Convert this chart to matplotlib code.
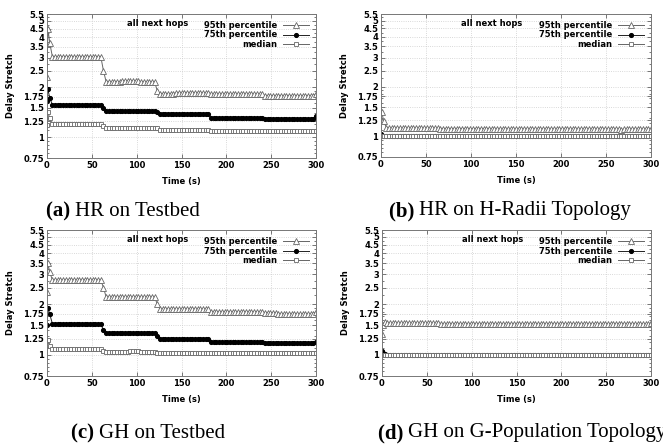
import matplotlib
matplotlib.use("Agg")
import matplotlib.pyplot as plt
from matplotlib.ticker import FixedLocator, NullFormatter

# sample times (s): 0, 1, then every 3 s
time_s = [0, 1] + list(range(3, 301, 3))

# runs: t0, t1, t3, 6..60 (19), 63, 66..120 (19), 123, 126..180 (19), 183..240 (20), 243..297 (19), 300
hr_testbed_p95 = ([2.3, 4.5, 3.7] + [3.05] * 19 + [2.5] + [2.15] * 6 + [2.18] * 7 + [2.15] * 6 + [1.9]
                  + [1.83] * 6 + [1.85] * 13 + [1.82] * 20 + [1.78] * 19 + [1.82])
hr_testbed_p75 = ([1.65, 1.95, 1.72] + [1.57] * 19 + [1.5] + [1.43] * 19 + [1.42]
                  + [1.37] * 19 + [1.31] * 20 + [1.29] * 19 + [1.34])
hr_testbed_med = ([1.18, 1.42, 1.3] + [1.195] * 19 + [1.16] + [1.14] * 19 + [1.13]
                  + [1.10] * 19 + [1.095] * 20 + [1.09] * 19 + [1.09])

hr_hradii_p95 = ([1.26, 1.40, 1.23] + [1.13] + [1.118] * 18 + [1.118] + [1.115] * 19 + [1.11]
                 + [1.105] * 19 + [1.105] * 20 + [1.105] * 8 + [1.09] + [1.105] * 10 + [1.11])
hr_hradii_p75 = [1.03, 1.01, 1.0] + [1.0] * 99
hr_hradii_med = [1.0, 1.0, 1.0] + [1.0] * 99

gh_testbed_p95 = ([2.35, 3.5, 3.1] + [2.78] * 19 + [2.5] + [2.2] * 19 + [2.0]
                  + [1.87] * 19 + [1.8] * 20 + [1.78] * 5 + [1.75] * 14 + [1.8])
gh_testbed_p75 = ([1.5, 1.9, 1.75] + [1.53] * 19 + [1.4] + [1.35] * 19 + [1.3]
                  + [1.24] * 19 + [1.2] * 20 + [1.18] * 19 + [1.19])
gh_testbed_med = ([1.15, 1.22, 1.13] + [1.08] * 19 + [1.05] + [1.04] * 9 + [1.05] * 4 + [1.04] * 6 + [1.03]
                  + [1.02] * 19 + [1.02] * 20 + [1.02] * 19 + [1.03])

gh_gpop_p95 = ([1.33, 1.5, 1.56] + [1.54] * 19 + [1.54] + [1.53] * 19 + [1.53]
               + [1.53] * 19 + [1.53] * 20 + [1.53] * 19 + [1.54])
gh_gpop_p75 = [1.05, 1.03, 1.01] + [1.0] * 99
gh_gpop_med = [1.0, 1.0, 1.0] + [1.0] * 99

panels = [
    (hr_testbed_p95, hr_testbed_p75, hr_testbed_med),
    (hr_hradii_p95, hr_hradii_p75, hr_hradii_med),
    (gh_testbed_p95, gh_testbed_p75, gh_testbed_med),
    (gh_gpop_p95, gh_gpop_p75, gh_gpop_med),
]
captions = [("(a)", "HR on Testbed"), ("(b)", "HR on H-Radii Topology"),
            ("(c)", "GH on Testbed"), ("(d)", "GH on G-Population Topology")]
y_ticks = [0.75, 1, 1.25, 1.5, 1.75, 2, 2.5, 3, 3.5, 4, 4.5, 5, 5.5]
y_tick_labels = ["0.75", "1", "1.25", "1.5", "1.75", "2", "2.5", "3", "3.5", "4", "4.5", "5", "5.5"]
x_ticks = [0, 50, 100, 150, 200, 250, 300]

W, H = 663, 445
fig = plt.figure(figsize=(W / 100, H / 100), dpi=100)

# axes boxes in pixels: left, right, top, bottom
boxes = [(47, 316, 14, 158), (381, 651, 14, 157), (47, 316, 230, 376), (382, 651, 230, 376)]
# caption anchors in pixels: center x, center y
cap_pos = [(123, 211), (510, 211), (148, 433), (522, 433)]

line_col = "#666666"
fs = 6.0
for (p95, p75, med), (l, r, t, b) in zip(panels, boxes):
    ax = fig.add_axes([l / W, (H - b) / H, (r - l) / W, (b - t) / H])
    ax.set_yscale("log")
    ax.plot(time_s, p95, color=line_col, lw=0.7, marker="^", ms=3.8, mfc="white",
            mec=line_col, mew=0.6, label="95th percentile")
    ax.plot(time_s, p75, color="#222222", lw=0.7, marker="o", ms=2.7, mfc="black",
            mec="black", label="75th percentile")
    ax.plot(time_s, med, color=line_col, lw=0.7, marker="s", ms=3.2, mfc="white",
            mec=line_col, mew=0.6, label="median")
    ax.set_xlim(0, 300)
    ax.set_ylim(0.75, 5.5)
    ax.yaxis.set_major_locator(FixedLocator(y_ticks))
    ax.set_yticklabels(y_tick_labels)
    ax.yaxis.set_minor_formatter(NullFormatter())
    ax.yaxis.set_minor_locator(FixedLocator([0.8, 0.85, 0.9, 0.95, 1.1, 1.2, 1.3, 1.4, 1.6, 1.7, 1.8, 1.9,
                                             2.25, 2.75, 3.25, 3.75, 4.25, 4.75, 5.25]))
    ax.set_xticks(x_ticks)
    ax.tick_params(which="both", direction="in", top=True, right=True, labelsize=fs,
                   width=0.5, colors="#444444", labelcolor="black", pad=2)
    ax.tick_params(which="major", length=3)
    ax.tick_params(which="minor", length=1.5)
    for lab in ax.get_xticklabels() + ax.get_yticklabels():
        lab.set_fontweight("bold")
    ax.grid(True, which="major", color="#cccccc", linestyle=":", lw=0.6)
    for sp in ax.spines.values():
        sp.set_color("#777777")
        sp.set_linewidth(0.7)
    ax.set_xlabel("Time (s)", fontsize=fs, fontweight="bold", labelpad=5)
    ax.set_ylabel("Delay Stretch", fontsize=fs, fontweight="bold", labelpad=6)
    ax.text(0.41, 0.935, "all next hops", transform=ax.transAxes, fontsize=fs,
            fontweight="bold", ha="center", va="center")
    ax.legend(loc="upper right", frameon=False, markerfirst=False,
              prop={"weight": "bold", "size": fs}, handlelength=3.2, handletextpad=0.6,
              labelspacing=0.1, borderaxespad=0.4)

# captions: bold tag followed by regular serif text
fig.canvas.draw()
renderer = fig.canvas.get_renderer()
for (tag, rest), (cx, cy) in zip(captions, cap_pos):
    t1 = fig.text(0, 1 - cy / H, tag + " ", fontsize=15, family="Liberation Serif",
                  fontweight="bold", va="center")
    t2 = fig.text(0, 1 - cy / H, rest, fontsize=15, family="Liberation Serif", va="center")
    w1 = t1.get_window_extent(renderer).width
    w2 = t2.get_window_extent(renderer).width
    x0 = cx - (w1 + w2) / 2
    t1.set_x(x0 / W)
    t2.set_x((x0 + w1) / W)

fig.savefig("out.png", dpi=100)
